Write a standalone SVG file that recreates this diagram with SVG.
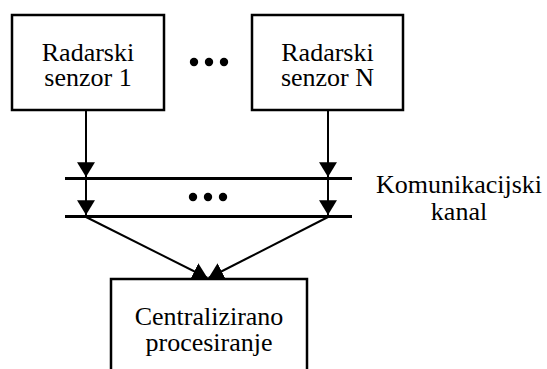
<svg xmlns="http://www.w3.org/2000/svg" width="547" height="369" viewBox="0 0 547 369">
<style>
  .box { fill: #fff; stroke: #000; stroke-width: 2.5; }
  .wire { stroke: #000; stroke-width: 2; fill: none; }
  .bus { stroke: #000; stroke-width: 3; fill: none; }
  .dot { fill: #000; }
</style>
<defs>
  <marker id="arr" markerUnits="userSpaceOnUse" markerWidth="16" markerHeight="19" viewBox="0 -9 15 18" refX="14" refY="0" orient="auto">
    <path d="M0,-8.5 L14,0 L0,8.5 z" fill="#000"/>
  </marker>
</defs>
<rect width="547" height="369" fill="#fff"/>
<g id="connectors">
  <line class="bus" x1="65" y1="178.5" x2="352" y2="178.5"/>
  <line class="bus" x1="65" y1="216.5" x2="352" y2="216.5"/>
  <line class="wire" x1="86" y1="110" x2="86" y2="177" marker-end="url(#arr)"/>
  <line class="wire" x1="328" y1="110" x2="328" y2="177" marker-end="url(#arr)"/>
  <line class="wire" x1="86" y1="179" x2="86" y2="215" marker-end="url(#arr)"/>
  <line class="wire" x1="328" y1="179" x2="328" y2="215" marker-end="url(#arr)"/>
  <line class="wire" x1="86" y1="217" x2="207.5" y2="278" marker-end="url(#arr)"/>
  <line class="wire" x1="328" y1="217" x2="208.5" y2="278" marker-end="url(#arr)"/>
</g>
<g font-family="'Liberation Serif', 'Times New Roman', 'DejaVu Serif', serif" font-size="26" fill="#000" text-anchor="middle">
<g id="sensor1">
  <rect class="box" x="12" y="15" width="152" height="95"/>
  <text x="88" y="61">Radarski</text>
  <text x="88" y="86">senzor 1</text>
</g>
<g id="dots-top">
  <circle class="dot" cx="194" cy="62" r="4.2"/>
  <circle class="dot" cx="209" cy="62" r="4.2"/>
  <circle class="dot" cx="224" cy="62" r="4.2"/>
</g>
<g id="sensorN">
  <rect class="box" x="252" y="15" width="151" height="95"/>
  <text x="327.5" y="61">Radarski</text>
  <text x="327.5" y="86">senzor N</text>
</g>
<g id="channel">
  <circle class="dot" cx="193" cy="197" r="4.2"/>
  <circle class="dot" cx="208" cy="197" r="4.2"/>
  <circle class="dot" cx="223" cy="197" r="4.2"/>
  <text x="459" y="193">Komunikacijski</text>
  <text x="459" y="220">kanal</text>
</g>
<g id="central">
  <rect class="box" x="111" y="279" width="196" height="100"/>
  <text x="209" y="325">Centralizirano</text>
  <text x="209" y="351">procesiranje</text>
</g>
</g>
</svg>
